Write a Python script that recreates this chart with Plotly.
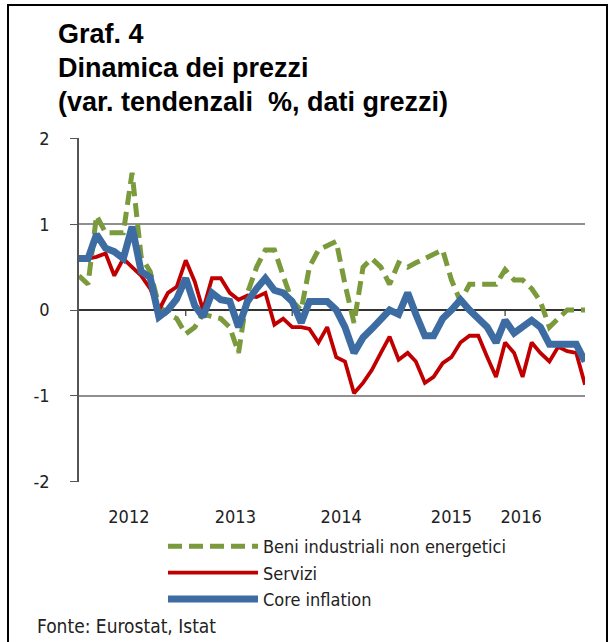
import pandas as pd
import plotly.graph_objects as go

months = pd.date_range("2012-01-01", "2016-10-01", freq="MS").strftime("%Y-%m-%d").tolist()

beni = [0.4, 0.3, 1.1, 0.9, 0.9, 0.9, 1.6, 0.62, 0.45, 0.05,
        -0.05, -0.1, -0.28, -0.2, -0.05, -0.08, -0.1, -0.2, -0.5, 0.2,
        0.5, 0.7, 0.7, 0.4, 0.1, 0.0, 0.5, 0.7, 0.75, 0.8,
        0.3, -0.15, 0.5, 0.6, 0.5, 0.3, 0.55, 0.5, 0.55, 0.6,
        0.65, 0.7, 0.35, 0.1, 0.3, 0.3, 0.3, 0.3, 0.47, 0.35,
        0.35, 0.25, 0.1, -0.2, -0.1, 0.0, 0.0, 0.0]

servizi = [0.6, 0.6, 0.62, 0.66, 0.4, 0.6, 0.5, 0.4, 0.25, 0.0,
           0.2, 0.27, 0.58, 0.33, 0.0, 0.37, 0.37, 0.2, 0.12, 0.17,
           0.15, 0.2, -0.17, -0.1, -0.2, -0.2, -0.22, -0.38, -0.2, -0.55,
           -0.6, -0.97, -0.85, -0.7, -0.5, -0.31, -0.58, -0.5, -0.6, -0.85,
           -0.78, -0.62, -0.55, -0.38, -0.3, -0.3, -0.55, -0.78, -0.38, -0.5,
           -0.78, -0.38, -0.5, -0.6, -0.43, -0.48, -0.5, -0.87]

core = [0.6, 0.6, 0.88, 0.72, 0.68, 0.6, 0.97, 0.45, 0.38, -0.08,
        0.0, 0.13, 0.37, 0.05, -0.08, 0.2, 0.12, 0.1, -0.2, 0.1,
        0.25, 0.37, 0.23, 0.2, 0.1, -0.15, 0.1, 0.1, 0.1, 0.0,
        -0.2, -0.5, -0.32, -0.22, -0.12, 0.0, -0.05, 0.2, -0.05, -0.3,
        -0.3, -0.1, 0.0, 0.12, 0.0, -0.1, -0.2, -0.38, -0.12, -0.27,
        -0.2, -0.12, -0.2, -0.4, -0.4, -0.4, -0.4, -0.6]

year_labels = ["2012", "2013", "2014", "2015", "2016"]
year_label_pos = ["2012-06-20", "2013-06-20", "2014-06-18", "2015-07-01", "2016-02-25"]
january_ticks = ["2013-01-01", "2014-01-01", "2015-01-01", "2016-01-01"]
y_ticks = [-2, -1, 0, 1, 2]

series_names = ["Beni industriali non energetici", "Servizi", "Core inflation"]
series_colors = ["#7a9a3c", "#c00000", "#3d6ca3"]

NARROW = "Liberation Sans Narrow, Arial Narrow, DejaVu Sans Condensed, Liberation Sans, sans-serif"
BOLD = "Liberation Sans, Arial, sans-serif"

W, H = 611, 642
L, R, T, B = 79, 26, 138, 160
pw, ph = W - L - R, H - T - B


def px(x):
    return (x - L) / pw


def py(y):
    return (H - B - y) / ph


fig = go.Figure()
fig.add_trace(go.Scatter(x=months, y=beni, mode="lines", name=series_names[0],
                         legendgroup="a",
                         line=dict(color=series_colors[0], width=5, dash="14px,7px")))
fig.add_trace(go.Scatter(x=months, y=servizi, mode="lines", name=series_names[1],
                         legendgroup="b",
                         line=dict(color=series_colors[1], width=3.8)))
fig.add_trace(go.Scatter(x=months, y=core, mode="lines", name=series_names[2],
                         legendgroup="c",
                         line=dict(color=series_colors[2], width=7)))

shapes = []
for d in january_ticks:
    shapes.append(dict(type="line", xref="x", yref="y", x0=d, x1=d, y0=0, y1=-0.07,
                       line=dict(color="#333333", width=1.2), layer="below"))
shapes.append(dict(type="rect", xref="paper", yref="paper",
                   x0=px(8), x1=px(607), y0=py(660), y1=py(5),
                   line=dict(color="black", width=2)))

annotations = []
for text, ypix in [("Graf. 4", 34), ("Dinamica dei prezzi", 68),
                   ("(var. tendenzali  %, dati grezzi)", 102)]:
    annotations.append(dict(text="<b>" + text + "</b>", xref="paper", yref="paper",
                            x=px(56), y=py(ypix), xanchor="left", yanchor="middle",
                            showarrow=False, font=dict(family=BOLD, size=27, color="black")))
annotations.append(dict(text="Fonte: Eurostat, Istat", xref="paper", yref="paper",
                        x=px(35), y=py(626), xanchor="left", yanchor="middle",
                        showarrow=False, font=dict(family=NARROW, size=19, color="#222222")))

fig.update_layout(
    width=W, height=H,
    margin=dict(l=L, r=R, t=T, b=B, pad=0),
    paper_bgcolor="white", plot_bgcolor="white",
    showlegend=True,
    legend=dict(x=px(163), y=py(528), xanchor="left", yanchor="top",
                font=dict(family=NARROW, size=18, color="#222222"),
                itemwidth=90, tracegroupgap=0, bgcolor="rgba(0,0,0,0)"),
    shapes=shapes,
    annotations=annotations,
    xaxis=dict(range=[months[0], months[-1]], showgrid=False, zeroline=False,
               showline=False, tickvals=year_label_pos, ticktext=year_labels,
               ticks="", tickfont=dict(family=NARROW, size=18, color="#222222"),
               ticklabelstandoff=22),
    yaxis=dict(range=[-2.005, 2.005], tickvals=y_ticks, ticktext=[str(v) for v in y_ticks],
               showgrid=True, gridcolor="#8f8f8f", gridwidth=1.5,
               zeroline=True, zerolinecolor="#333333", zerolinewidth=1.5,
               showline=True, linecolor="#555555", linewidth=1.5,
               ticks="outside", ticklen=7, tickcolor="#555555",
               tickfont=dict(family=NARROW, size=18, color="#222222"),
               ticklabelstandoff=17),
)

fig.write_html("out.html", config={"displayModeBar": False},
               post_script="document.body.style.margin='0px';")
